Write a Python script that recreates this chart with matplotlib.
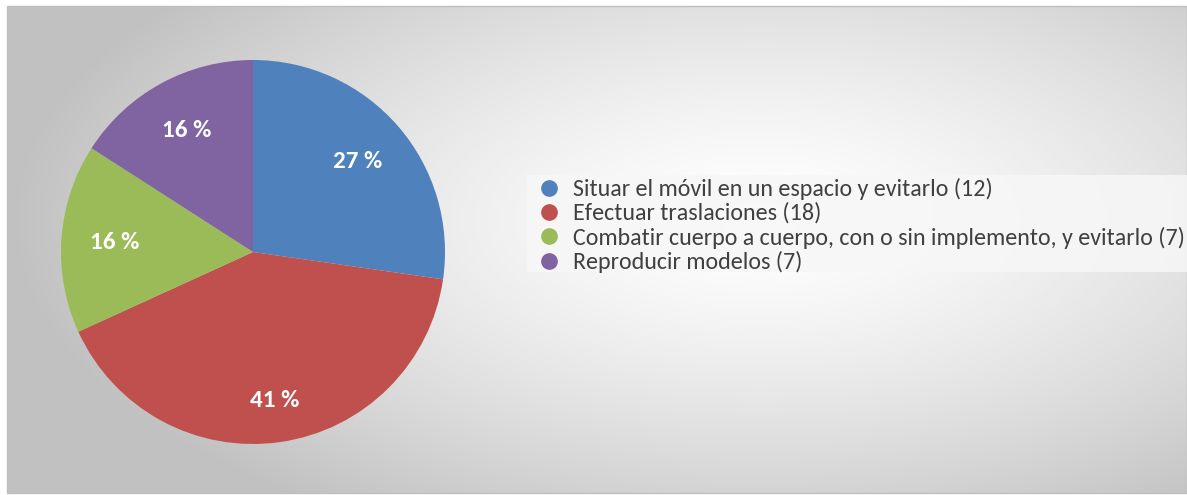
import numpy as np
import matplotlib
matplotlib.use("Agg")
import matplotlib.pyplot as plt
import matplotlib.lines as mlines
from matplotlib.patches import Rectangle

# Data
categories = [
    "Situar el móvil en un espacio y evitarlo (12)",
    "Efectuar traslaciones (18)",
    "Combatir cuerpo a cuerpo, con o sin implemento, y evitarlo (7)",
    "Reproducir modelos (7)",
]
values = [12, 18, 7, 7]
colors = ["#4F81BD", "#C0504D", "#9BBB59", "#8064A2"]

FONT = ["Carlito", "Lato", "DejaVu Sans"]

W, H = 1187, 495
fig = plt.figure(figsize=(W / 100, H / 100), dpi=100)
fig.patch.set_facecolor("white")

# Background axes in pixel coordinates
bg = fig.add_axes([0, 0, 1, 1])
bg.set_xlim(0, W)
bg.set_ylim(H, 0)
bg.axis("off")
x0, y0, x1, y1 = 7, 6, 1187, 493
xx, yy = np.meshgrid(np.linspace(x0, x1, 600), np.linspace(y0, y1, 250))
cx, cy = 760, 220
d = np.sqrt(((xx - cx) / 700) ** 2 + ((yy - cy) / 330) ** 2)
v = 1.0 - 0.22 * np.clip(d, 0, 1.5) ** 1.4
v = np.clip(v, 0.76, 1.0)
img = np.dstack([v, v, v])
bg.imshow(img, extent=[x0, x1, y1, y0], aspect="auto", interpolation="bilinear", zorder=0)
bg.add_patch(Rectangle((x0, y0), x1 - x0, y1 - y0, fill=False, edgecolor="#bfbfbf", lw=1, zorder=1))

# Pie axes
pcx, pcy, R = 253, 252, 192
ax = fig.add_axes([(pcx - R) / W, (H - pcy - R) / H, 2 * R / W, 2 * R / H])
wedges, texts, autotexts = ax.pie(
    values, colors=colors, startangle=90, counterclock=False,
    autopct=lambda p: f"{p:.0f} %", pctdistance=0.72, radius=1.0,
    textprops=dict(color="white", fontsize=18, fontweight="bold", family=FONT),
    wedgeprops=dict(linewidth=0),
)
ax.set_xlim(-1, 1)
ax.set_ylim(-1, 1)
ax.axis("off")
# slightly further out label for the largest slice
xr, yr = autotexts[1].get_position()
autotexts[1].set_position((xr * 0.78 / 0.72, yr * 0.78 / 0.72))

# Legend background
bg.add_patch(Rectangle((527, 175), 660, 97, facecolor="#f7f7f7", edgecolor="none", alpha=0.85, zorder=2))
handles = [mlines.Line2D([], [], marker="o", linestyle="none", markersize=11,
                         markerfacecolor=c, markeredgecolor=c) for c in colors]
leg = fig.legend(
    handles, categories, loc="upper left",
    bbox_to_anchor=(538 / W, 1 - 178 / H), frameon=False,
    prop=dict(family=FONT, size=17.3),
    labelspacing=0.1, handlelength=0.9, handletextpad=0.55,
    borderaxespad=0, borderpad=0, labelcolor="#404040",
)

fig.savefig("out.png", dpi=100, facecolor="white")
